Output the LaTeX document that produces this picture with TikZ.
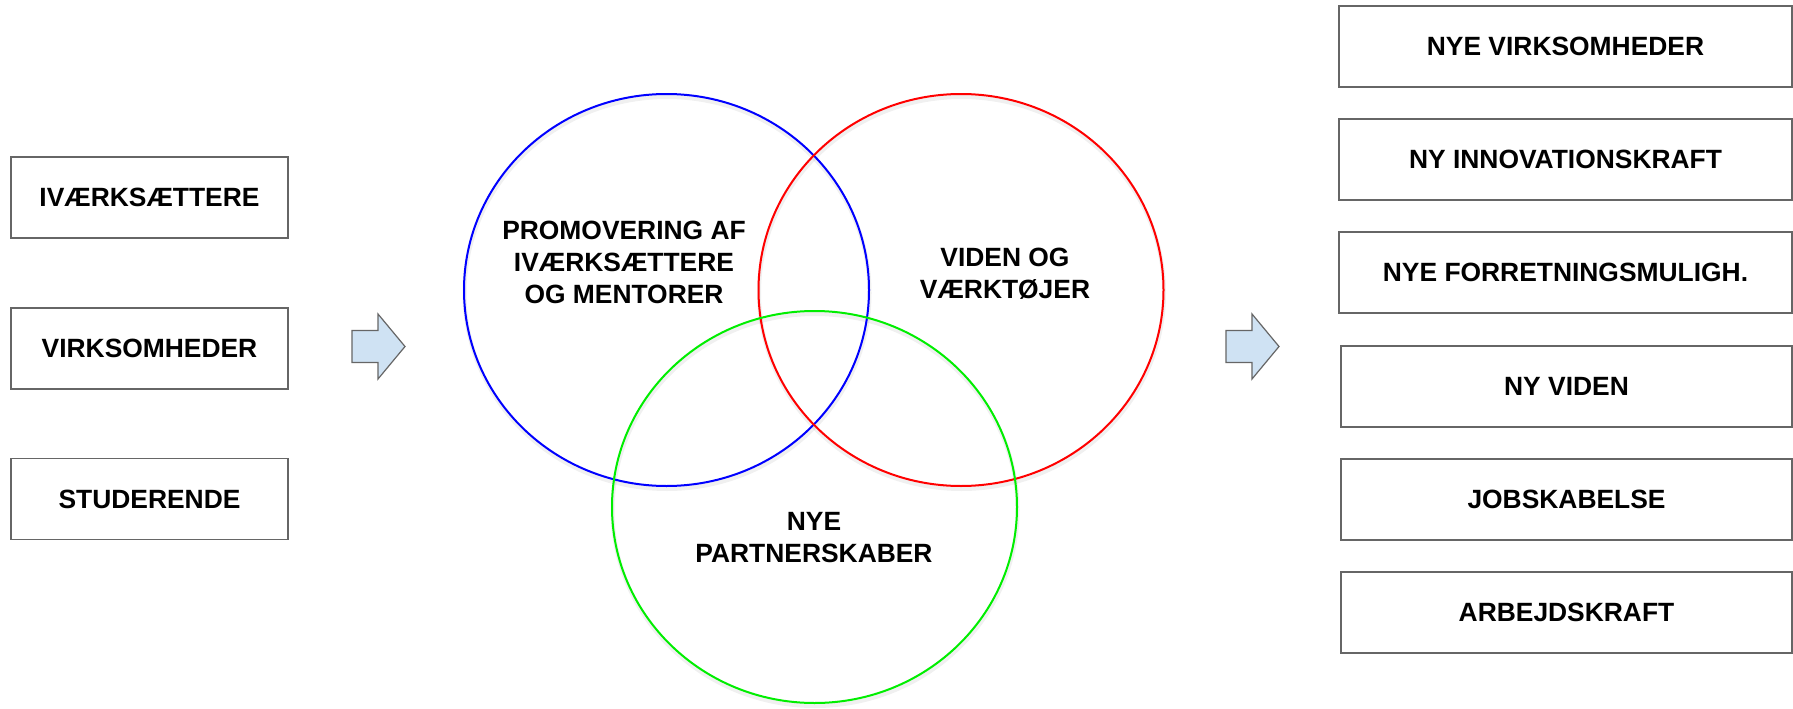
\documentclass[tikz,border=0pt]{standalone}
\usepackage{fontspec}
\setmainfont{Liberation Sans}
\usetikzlibrary{shapes.geometric}
\definecolor{boxgray}{HTML}{666666}
\definecolor{arrowfill}{HTML}{CFE2F3}
\definecolor{vblue}{HTML}{0000FF}
\definecolor{vred}{HTML}{FF0000}
\definecolor{vgreen}{HTML}{00EE00}
\begin{document}
\begin{tikzpicture}[x=1pt,y=-1pt,
  lbl/.style={font=\fontsize{26.4}{32}\selectfont\bfseries, align=center, text=black, inner sep=0pt},
  outbox/.style={draw=boxgray, line width=1.8pt, fill=white, minimum height=81pt, inner sep=0pt,
    font=\fontsize{26.4}{32}\selectfont\bfseries},
  leftbox/.style={outbox, minimum width=277pt},
  rightbox/.style={outbox, minimum width=453pt},
  rightboxb/.style={outbox, minimum width=451pt},
  venn/.style={ellipse, minimum width=405pt, minimum height=392pt, inner sep=0pt, line width=2pt},
  vennshadow/.style={ellipse, minimum width=405pt, minimum height=392pt, inner sep=0pt, line width=4pt, draw=black, draw opacity=0.06},
  fatarrow/.style={draw=boxgray, fill=arrowfill, line width=1.2pt, line join=miter}
]
\useasboundingbox (0,0) rectangle (1793,709);
\fill[white] (0,0) rectangle (1793,709);

% left boxes
\node[leftbox] (iv) at (149.5,197.5) {IVÆRKSÆTTERE};
\node[leftbox] (vi) at (149.5,348.5) {VIRKSOMHEDER};
\node[leftbox] (st) at (149.5,499) {STUDERENDE};

% right boxes
\node[rightbox] (r1) at (1565.5,46.5) {NYE VIRKSOMHEDER};
\node[rightbox] (r2) at (1565.5,159.5) {NY INNOVATIONSKRAFT};
\node[rightbox] (r3) at (1565.5,272.5) {NYE FORRETNINGSMULIGH.};
\node[rightboxb] (r4) at (1566.5,386.5) {NY VIDEN};
\node[rightboxb] (r5) at (1566.5,499.5) {JOBSKABELSE};
\node[rightboxb] (r6) at (1566.5,612.5) {ARBEJDSKRAFT};

% arrows
\draw[fatarrow] (352,330.5) -- (378,330.5) -- (378,314) -- (405,346.5) -- (378,379) -- (378,362.5) -- (352,362.5) -- cycle;
\draw[fatarrow] (1226,330.5) -- (1252,330.5) -- (1252,314) -- (1279,346.5) -- (1252,379) -- (1252,362.5) -- (1226,362.5) -- cycle;

% venn shadows
\node[vennshadow] at (667,293) {};
\node[vennshadow] at (961.5,293) {};
\node[vennshadow] at (815,510) {};

% venn circles
\node[venn, draw=vblue] (cblue) at (666.5,290) {};
\node[venn, draw=vred] (cred) at (961,290) {};
\node[venn, draw=vgreen] (cgreen) at (814.5,507) {};

% venn labels
\node[lbl] (tblue) at (624,262) {PROMOVERING AF\\IVÆRKSÆTTERE\\OG MENTORER};
\node[lbl] (tred) at (1005,274) {VIDEN OG\\VÆRKTØJER};
\node[lbl] (tgreen) at (814,538) {NYE\\PARTNERSKABER};
\end{tikzpicture}
\end{document}
